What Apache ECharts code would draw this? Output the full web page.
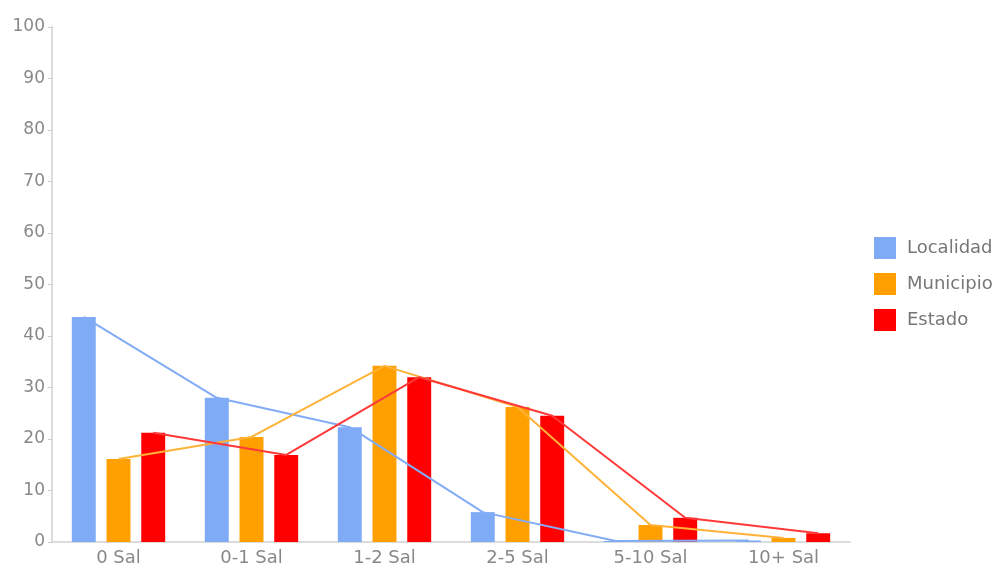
<!DOCTYPE html>
<html>
<head>
<meta charset="utf-8">
<script src="https://cdn.jsdelivr.net/npm/echarts@6/dist/echarts.min.js"></script>
<style>
  html, body { margin: 0; padding: 0; background: #fff; }
  #chart { width: 1002px; height: 568px; }
</style>
</head>
<body>
<div id="chart"></div>
<script>
// Income distribution by wage bracket (percent of population)
const categories = ['0 Sal', '0-1 Sal', '1-2 Sal', '2-5 Sal', '5-10 Sal', '10+ Sal'];
const localidad = [43.7, 28.0, 22.3, 5.8, 0.2, 0.3];
const municipio = [16.1, 20.4, 34.2, 26.2, 3.3, 0.8];
const estado    = [21.2, 16.9, 32.0, 24.5, 4.7, 1.7];
const yTicks = { min: 0, max: 100, interval: 10 };

const seriesNames = ['Localidad', 'Municipio', 'Estado'];
const seriesData = [localidad, municipio, estado];
const colors = ['#7eaaf6', '#ffa000', '#ff0000'];
const lineColors = ['#82acf5', '#ffb238', '#ff3838'];

// bar layout within each category band
const barWidthPct = 18;
const barGapPct = 45;
const step = (barWidthPct + barWidthPct * barGapPct / 100) / 100;
const offsets = [-step, 0, step];

const font = "'DejaVu Sans', 'Liberation Sans', Arial, sans-serif";

const bars = seriesNames.map((name, k) => ({
  name, type: 'bar',
  data: seriesData[k],
  barWidth: barWidthPct + '%',
  barGap: barGapPct + '%',
  itemStyle: { color: colors[k] },
  xAxisIndex: 0, yAxisIndex: 0
}));

// lines linking the tops of each series' bars
const lines = seriesNames.map((name, k) => ({
  name: name + '-line', type: 'line',
  data: seriesData[k].map((v, i) => [i + offsets[k], v]),
  xAxisIndex: 1, yAxisIndex: 0,
  showSymbol: false, symbol: 'none',
  lineStyle: { color: lineColors[k], width: 2 },
  z: 3, silent: true
}));

const chart = echarts.init(document.getElementById('chart'), null, { renderer: 'canvas' });
chart.setOption({
  animation: false,
  textStyle: { fontFamily: font },
  grid: { left: 52, right: 152, top: 27, bottom: 26, containLabel: false },
  legend: {
    data: seriesNames,
    orient: 'vertical',
    left: 869, top: 232,
    itemWidth: 22, itemHeight: 22, itemGap: 14,
    icon: 'rect',
    textStyle: { color: '#777', fontSize: 18, fontFamily: font, padding: [0, 0, 0, 6] }
  },
  xAxis: [{
    type: 'category', data: categories,
    axisLine: { lineStyle: { color: '#dcdcdc', width: 2 } },
    axisTick: { alignWithLabel: true, length: 4, lineStyle: { color: '#ccc' } },
    axisLabel: { color: '#888', fontSize: 18, margin: 7, fontFamily: font },
    splitLine: { show: false }
  }, {
    type: 'value', min: -0.5, max: categories.length - 0.5, show: false
  }],
  yAxis: {
    type: 'value', min: yTicks.min, max: yTicks.max, interval: yTicks.interval,
    axisLine: { show: true, onZero: false, lineStyle: { color: '#dcdcdc', width: 2 } },
    axisTick: { show: true, length: 4, lineStyle: { color: '#ccc' } },
    axisLabel: { color: '#888', fontSize: 17, margin: 7, fontFamily: font },
    splitLine: { show: false }
  },
  series: bars.concat(lines)
});
</script>
</body>
</html>
